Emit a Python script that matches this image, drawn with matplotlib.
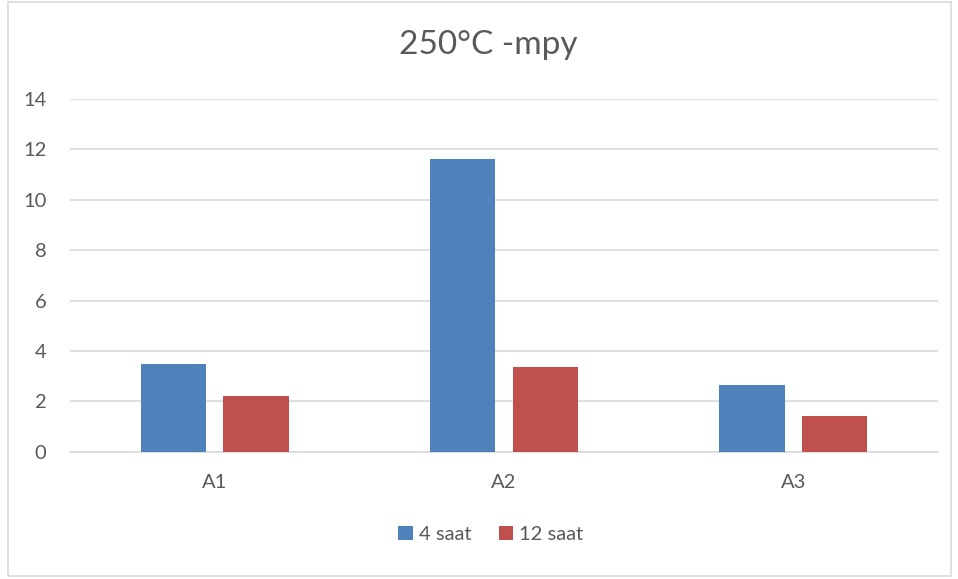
import matplotlib
matplotlib.use("Agg")
import matplotlib.pyplot as plt
from matplotlib.patches import Rectangle
import numpy as np

categories = ["A1", "A2", "A3"]
saat_4 = [3.47, 11.61, 2.65]
saat_12 = [2.21, 3.37, 1.40]
series_labels = ["4 saat", "12 saat"]
colors = ["#4f81bd", "#c0504d"]
yticks = [0, 2, 4, 6, 8, 10, 12, 14]

plt.rcParams['font.family'] = ['Lato', 'DejaVu Sans']
text_color = '#595959'
grid_color = '#d9d9d9'

fig = plt.figure(figsize=(9.58, 5.79), dpi=100)
ax = fig.add_axes([70 / 958, 127.3 / 579, 868 / 958, 352.8 / 579])

x = np.arange(len(categories))
width = 0.225
offset = 0.143
ax.bar(x - offset, saat_4, width, color=colors[0], label=series_labels[0], zorder=3)
ax.bar(x + offset, saat_12, width, color=colors[1], label=series_labels[1], zorder=3)

ax.set_xlim(-0.5, len(categories) - 0.5)
ax.set_ylim(0, 14)
ax.set_yticks(yticks)
ax.set_xticks(x)
ax.set_xticklabels(categories)
ax.tick_params(axis='both', length=0, labelsize=14.5, colors=text_color)
ax.tick_params(axis='y', pad=17)
ax.tick_params(axis='x', pad=16)
ax.yaxis.grid(True, color=grid_color, linewidth=1.2, zorder=0)
for side in ['top', 'right', 'left']:
    ax.spines[side].set_visible(False)
ax.spines['bottom'].set_color(grid_color)
ax.spines['bottom'].set_linewidth(1.2)

fig.text(488 / 958, 1 - 45 / 579, "250°C -mpy", ha='center', va='center',
         fontsize=24, color=text_color)

ax.legend(loc='center', bbox_to_anchor=(0.485, -0.235), ncol=2, frameon=False,
          fontsize=14.5, labelcolor=text_color, handlelength=0.7, handleheight=0.7,
          handletextpad=0.3, columnspacing=1.4)

fig.patches.append(Rectangle((8 / 958, 3 / 579), 943 / 958, 574 / 579,
                             transform=fig.transFigure, fill=False,
                             edgecolor=grid_color, linewidth=1.2))

fig.savefig("out.png", dpi=100)
